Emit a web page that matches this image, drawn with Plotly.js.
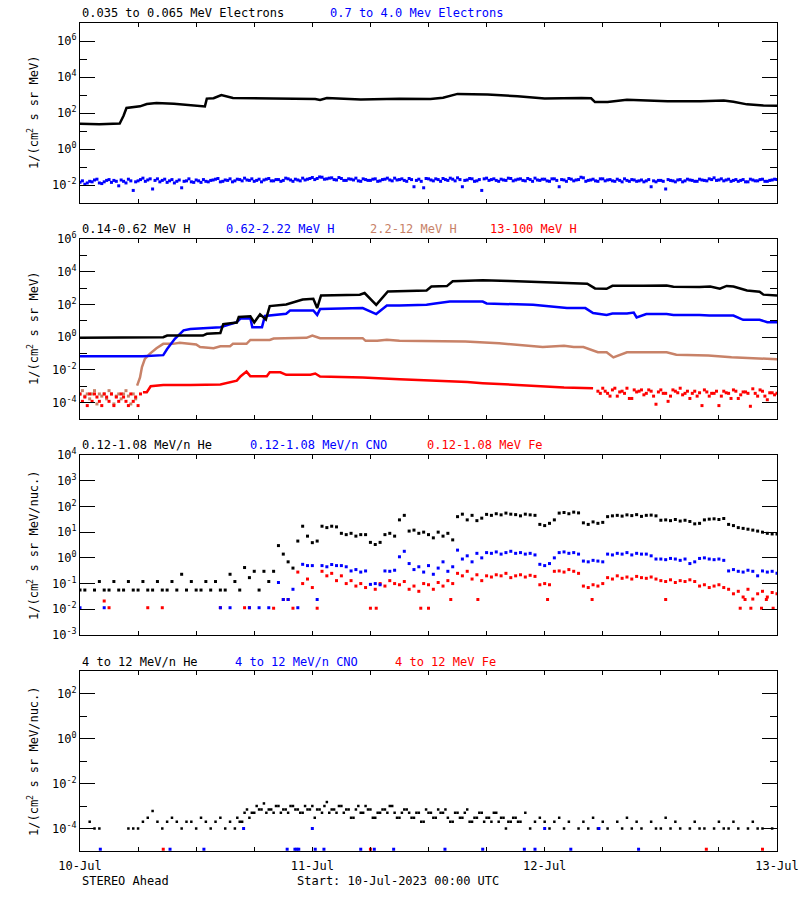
<!DOCTYPE html>
<html><head><meta charset="utf-8">
<script src="https://cdn.plot.ly/plotly-3.0.1.min.js"></script>
<style>body{margin:0;background:#fff}#chart{width:800px;height:900px}</style>
</head><body><div id="chart"></div>
<script>
// ---------- time axis ----------
const xDayHours = [0,24,48,72];
const xDayText = ['10-Jul','11-Jul','12-Jul','13-Jul'];
const xMinorHours = [6,12,18,30,36,42,54,60,66];

// ---------- panel 1 : electrons ----------
const eBlackHours = [0,2,4.1,4.5,4.8,6.2,6.9,7.9,9.7,11,12.4,12.9,13.1,13.8,14.6,15.8,20,24.3,24.8,25.5,29,33,36.2,37.5,39,40.7,42.1,45.2,48,51.8,52.8,53.2,54.5,56.5,57.9,60.7,64.1,66.5,67.5,68.9,70.6,72];
const eBlackFlux = [25,24,26,71,190,235,316,363,331,275,234,229,631,661,1000,676,631,603,525,676,562,617,603,708,1150,1150,1050,850,646,676,660,407,407,550,501,447,447,501,427,302,257,251];
// 0.7-4.0 MeV electrons, every 30 min from 00:00
const eBlueFlux = [
0.014,0.011,0.016,0.019,0.013,0.015,0.020,0.018,0.009,0.016,0.021,0.005,
0.017,0.024,0.019,0.006,0.022,0.018,0.014,0.020,0.016,0.007,0.017,0.015,
0.019,0.014,0.016,0.018,0.021,0.015,0.019,0.022,0.017,0.020,0.024,0.018,
0.016,0.021,0.019,0.023,0.017,0.020,0.018,0.022,0.016,0.019,0.024,0.021,
0.026,0.023,0.027,0.022,0.025,0.019,0.023,0.018,0.021,0.024,0.016,0.020,
0.018,0.022,0.017,0.021,0.019,0.024,0.020,0.018,0.023,0.008,0.021,0.007,
0.022,0.017,0.020,0.023,0.018,0.021,0.025,0.008,0.019,0.022,0.017,0.005,
0.024,0.020,0.018,0.021,0.018,0.023,0.019,0.022,0.017,0.020,0.024,0.018,
0.021,0.016,0.022,0.008,0.019,0.023,0.017,0.020,0.025,0.018,0.021,0.016,
0.022,0.019,0.017,0.021,0.015,0.018,0.020,0.016,0.019,0.017,0.008,0.015,
0.018,0.006,0.018,0.015,0.020,0.017,0.019,0.016,0.021,0.018,0.022,0.025,
0.019,0.017,0.021,0.018,0.016,0.020,0.015,0.019,0.017,0.021,0.016,0.019,
0.020];
// same channel, every 30 min from 00:15
const eBlueFlux2 = [
0.017,0.013,0.015,0.021,0.012,0.018,0.014,0.016,0.019,0.013,0.017,0.015,
0.020,0.016,0.022,0.018,0.015,0.021,0.017,0.013,0.019,0.016,0.022,0.014,
0.017,0.020,0.015,0.019,0.023,0.016,0.018,0.015,0.021,0.017,0.019,0.022,
0.018,0.015,0.021,0.017,0.020,0.016,0.024,0.019,0.021,0.017,0.019,0.023,
0.020,0.028,0.021,0.024,0.020,0.026,0.018,0.022,0.019,0.017,0.022,0.018,
0.021,0.016,0.020,0.024,0.017,0.019,0.022,0.016,0.020,0.018,0.016,0.023,
0.019,0.022,0.016,0.020,0.024,0.017,0.020,0.018,0.023,0.016,0.020,0.022,
0.018,0.022,0.016,0.019,0.024,0.017,0.021,0.018,0.023,0.016,0.019,0.021,
0.017,0.022,0.018,0.020,0.016,0.021,0.019,0.027,0.016,0.019,0.017,0.022,
0.017,0.020,0.016,0.018,0.022,0.016,0.019,0.017,0.015,0.020,0.017,0.018,
0.016,0.020,0.017,0.019,0.015,0.021,0.018,0.016,0.019,0.017,0.020,0.018,
0.022,0.019,0.016,0.020,0.018,0.015,0.021,0.017,0.020,0.016,0.018,0.021];

// ---------- panel 2 : protons ----------
const hBlackHours = [0,8.6,9.0,12.7,13.1,14.5,14.8,16.2,16.4,17.6,18.0,18.6,19.2,19.6,21.3,22.4,23.0,24.1,24.5,24.9,28.9,29.4,30.6,31.8,33,35.8,36.3,37.9,38.5,41.6,44.4,50.3,52.4,53.2,54.4,55,57.1,58.2,60.6,61.3,64,65.1,66.1,66.8,67.5,68.9,70.2,70.6,72];
const hBlackFlux = [0.91,1.0,1.26,1.26,1.6,1.8,6.3,7.9,17,19,8,25,12,79,100,151,200,224,60,355,398,501,95,617,631,708,1260,1320,2630,3020,2690,2140,1860,955,912,1380,1480,1410,1450,1200,1150,1260,912,1350,1260,708,603,398,355];
const hBlueHours = [0,6.5,8.6,9.0,9.8,10.7,11.4,14.5,16.2,16.6,17.6,17.8,18.8,19.1,21.3,21.7,24.1,24.5,24.8,28.9,29.2,30.6,31.7,33,35.8,36.5,38.2,41.6,42,46.8,50.3,52.2,53,54.4,55,56.5,57.2,57.5,58.5,60.6,61.3,64,65,67.5,68.5,70.2,71,72];
const hBlueFlux = [0.069,0.069,0.08,0.19,0.8,2.6,3.2,4.1,8.3,14,14.5,4.1,4.1,20,27,42,43,23,52,55,60,26,87,87,95,110,151,151,115,95,60,60,30,23,28,28,32,16,26,26,23,23,21,21,11.5,11.5,8.3,8.3];
const hBrownHours = [5.9,6.2,6.4,6.7,7.2,7.9,8.6,9.6,10.3,12,12.4,13.8,14.5,15.5,15.8,17.2,17.6,19.6,20,22,23.4,24,24.8,29.2,29.5,30.7,31.7,33,39.8,43.3,46.8,47.8,50,51,52,53.5,54.4,55.1,56.5,60.6,61.6,64.9,67.3,72];
const hBrownFlux = [0.0011,0.0035,0.015,0.047,0.095,0.21,0.39,0.39,0.45,0.36,0.25,0.21,0.28,0.28,0.39,0.39,0.68,0.68,0.83,0.83,0.91,1.26,0.87,0.87,0.6,0.6,0.69,0.6,0.55,0.43,0.3,0.25,0.3,0.25,0.25,0.12,0.12,0.058,0.12,0.12,0.085,0.075,0.06,0.045];
// pre-event 2.2-12 MeV scatter, every 15 min from 00:00
const hBrownEarly = [3.4e-4,5.4e-4,2.5e-4,3.4e-4,1.7e-4,3.4e-4,5.4e-4,8.3e-5,3.4e-4,2.5e-4,3.4e-4,1.7e-4,5.4e-4,3.4e-4,8.3e-5,2.5e-4,3.4e-4,1.7e-4,3.4e-4,5.4e-4,2.5e-4,8.3e-5,3.4e-4,1.7e-4];
// 13-100 MeV: early scatter (15 min from 00:00), main trend, late scatter (30 min from 53:30 and from 53:45)
const hRedEarly = [3.4e-4,1.2e-4,2.2e-4,6.6e-5,3.4e-4,1.2e-4,3.4e-4,2.2e-4,1.2e-4,6.6e-5,3.4e-4,2.2e-4,1.2e-4,3.4e-4,6.6e-5,2.2e-4,1.2e-4,3.4e-4,2.2e-4,1.2e-4,6.6e-5,3.4e-4,1.2e-4,2.2e-4,6.6e-5,3.4e-4];
const hRedMidHours = [6.5,6.9,7.3,8.6,11.4,14.5,16.2,16.6,17.2,17.6,19.3,19.6,20.7,21.3,23.8,24.3,24.8,29.2,33,36.5,40,41.6,46,50,53];
const hRedMidFlux = [4.3e-4,4.3e-4,1.0e-3,1.2e-3,1.2e-3,1.3e-3,2.2e-3,4.1e-3,7.9e-3,4.1e-3,4.1e-3,7.2e-3,7.2e-3,5.0e-3,5.0e-3,6.0e-3,3.9e-3,3.4e-3,2.7e-3,2.3e-3,1.8e-3,1.55e-3,1.1e-3,8.5e-4,7.6e-4];
const hRedLate = [5.0e-4,7.6e-4,3.7e-4,6.0e-4,2.5e-4,5.0e-4,7.6e-4,1.8e-4,4.5e-4,6.0e-4,3.7e-4,5.0e-4,8.0e-5,6.0e-4,3.7e-4,2.5e-4,5.0e-4,7.6e-4,3.7e-4,1.8e-4,5.0e-4,4.0e-4,6.0e-4,2.5e-4,3.7e-4,6.6e-5,5.0e-4,3.7e-4,6.0e-4,1.8e-4,4.5e-4,3.7e-4,7.0e-4,2.5e-4,5.0e-4,1.5e-4,4.0e-4,3.7e-4];
const hRedLate2 = [3.7e-4,5.0e-4,2.5e-4,7.6e-4,4.5e-4,3.7e-4,1.8e-4,6.0e-4,5.0e-4,3.0e-4,6.0e-4,2.5e-4,4.5e-4,3.7e-4,1.2e-4,6.0e-4,4.0e-4,3.0e-4,5.0e-4,3.7e-4,2.5e-4,6.6e-5,4.5e-4,3.7e-4,5.0e-4,2.5e-4,4.0e-4,1.8e-4,5.0e-4,3.0e-4,4.5e-4,6.0e-5,3.7e-4,6.0e-4,2.5e-4,4.0e-4,3.0e-4];

// ---------- panel 3 : 0.12-1.08 MeV/n, every 30 min from 00:00 ----------
const lowHe = [
0.056,0.056,null,0.056,0.12,0.056,0.056,0.12,0.056,0.056,0.12,0.056,
0.056,0.12,0.056,0.056,0.12,0.056,0.056,0.12,0.056,0.23,0.056,0.12,
0.056,0.056,0.12,0.056,0.12,0.056,0.056,0.23,0.12,0.056,0.42,0.17,
0.3,0.056,0.3,0.12,0.3,3.0,1.4,0.7,0.4,4.5,17,7,
3.9,4.5,17,15,17,16,9,8,9,7,8,8,
4,3.3,4,8,9,7,30,45,11,12,9,10,
8,6,10,7,9,5,40,50,30,45,28,35,
49,45,52,47,55,50,48,43,50,47,45,20,
18,22,30,55,58,52,60,56,23,20,25,22,
24,40,43,45,42,47,44,48,41,45,46,43,
29,30,28,31,27,29,26,21,22,30,32,33,
31,34,20,18,15,14,13,12,11,10,9,8.5,
8.5];
const lowCNO = [
0.0115,null,null,null,null,0.0115,null,null,null,null,null,null,
null,null,null,null,null,null,null,null,null,null,null,null,
null,null,null,null,null,0.0115,null,0.0115,null,null,null,0.0115,
null,0.0115,null,0.0115,null,0.11,0.024,0.024,0.06,0.0115,0.56,0.5,
0.5,0.024,0.5,0.45,0.55,0.5,0.5,0.45,0.31,0.35,0.28,0.31,
0.093,0.1,0.09,0.31,0.3,0.33,1.1,1.8,0.6,0.35,0.45,0.28,
0.5,0.23,0.4,0.7,0.3,0.45,2,0.9,1.2,0.7,1.5,1.0,
1.6,1.5,1.7,1.4,1.6,1.8,1.5,1.6,1.4,1.5,1.3,0.56,
0.5,0.6,1.0,1.6,1.7,1.5,1.6,1.4,0.75,0.7,0.8,0.75,
0.7,1.4,1.3,1.5,1.4,1.6,1.3,1.5,1.4,1.4,1.2,0.9,
0.9,0.85,0.95,0.9,0.8,0.9,0.6,0.7,0.95,1.0,0.9,0.85,
0.9,0.8,0.31,0.35,0.3,0.28,0.33,0.3,0.2,0.31,0.28,0.3,
0.25];
const lowFe = [
null,null,null,null,null,0.021,0.0115,null,null,null,null,null,
null,null,0.0115,null,null,0.0115,null,null,null,null,null,null,
null,null,null,null,null,0.0115,null,null,null,null,0.0115,0.0115,
null,null,null,null,0.011,null,0.024,0.024,0.011,0.28,0.1,0.15,
0.07,0.011,0.3,0.2,0.25,0.13,0.2,0.1,0.13,0.08,0.1,0.07,
0.011,0.06,0.1,0.08,0.13,0.1,0.09,0.12,0.06,0.08,0.05,0.1,
0.09,0.06,0.11,0.08,0.13,0.1,0.25,0.2,0.3,0.15,0.22,0.13,
0.2,0.18,0.22,0.2,0.25,0.17,0.2,0.22,0.18,0.21,0.19,0.09,
0.1,0.09,0.3,0.31,0.28,0.35,0.3,0.25,0.08,0.07,0.09,0.08,
0.1,0.17,0.15,0.2,0.16,0.18,0.15,0.19,0.17,0.16,0.18,0.15,
0.13,0.12,0.14,0.11,0.13,0.12,0.14,0.12,0.08,0.09,0.07,0.08,
0.09,0.07,0.06,0.04,0.05,0.03,0.06,0.025,0.04,0.05,0.03,0.045,
0.04];
const lowFeExtraHours = [30.6,35.2,36.0,38.3,41.1,48.3,52.9,60.5,68.2,68.7,69.3,70.4,70.9,71.6];
const lowFeExtraFlux = [0.011,0.011,0.011,0.024,0.024,0.024,0.024,0.024,0.011,0.024,0.011,0.011,0.024,0.011];

// ---------- panel 4 : 4-12 MeV/n ----------
// He every 30 min from 00:00
const highHe = [
null,null,2e-4,1e-4,1e-4,null,null,null,null,null,1e-4,1e-4,
1e-4,2e-4,3e-4,6e-4,2e-4,1e-4,2e-4,3e-4,2e-4,1e-4,2e-4,2e-4,
1e-4,3e-4,2e-4,1e-4,2e-4,3e-4,1e-4,2e-4,1e-4,2e-4,5e-4,3e-4,
5e-4,7e-4,1.3e-3,7e-4,5e-4,1e-3,7e-4,5e-4,1e-3,7e-4,5e-4,7e-4,
1e-3,7e-4,5e-4,1.5e-3,7e-4,5e-4,1e-3,7e-4,3e-4,7e-4,5e-4,1e-3,
7e-4,3e-4,5e-4,7e-4,1e-3,5e-4,3e-4,7e-4,5e-4,3e-4,5e-4,2e-4,
5e-4,3e-4,7e-4,5e-4,3e-4,2e-4,5e-4,3e-4,7e-4,2e-4,3e-4,5e-4,
3e-4,2e-4,5e-4,3e-4,1e-4,2e-4,3e-4,2e-4,5e-4,1e-4,2e-4,3e-4,
2e-4,1e-4,2e-4,3e-4,1e-4,2e-4,null,1e-4,2e-4,1e-4,3e-4,1e-4,
2e-4,1e-4,null,2e-4,1e-4,3e-4,1e-4,2e-4,1e-4,null,2e-4,1e-4,
1e-4,3e-4,1e-4,2e-4,1e-4,null,1e-4,2e-4,1e-4,1e-4,null,1e-4,
2e-4,1e-4,1e-4,2e-4,1e-4,null,1e-4,2e-4,1e-4,1e-4,null,1e-4,
null];
// extra He samples, every 30 min from 16:15
const highHeExtra = [
3e-4,2e-4,7e-4,5e-4,1e-3,7e-4,5e-4,7e-4,1e-3,5e-4,
7e-4,1e-3,7e-4,5e-4,1e-3,7e-4,3e-4,7e-4,1e-3,5e-4,
7e-4,1e-3,5e-4,7e-4,3e-4,1e-3,5e-4,7e-4,3e-4,5e-4,
7e-4,5e-4,1e-3,3e-4,5e-4,7e-4,3e-4,5e-4,2e-4,7e-4,
5e-4,3e-4,5e-4,7e-4,2e-4,5e-4,3e-4,5e-4,2e-4,3e-4,
5e-4,2e-4,3e-4,5e-4,2e-4,3e-4,2e-4,3e-4,2e-4];
const highCNOHours = [2.1,9.3,12.8,16.9,21.4,22.2,22.4,22.6,24.0,24.3,25.2,29.0,30.4,32.4,37.7,41.6,45.9,47.0,48.0,50.7,53.6,57.7];
const highCNOFlux = [1.2e-5,1.2e-5,1.2e-5,1e-4,1.2e-5,1.2e-5,1.2e-5,1.2e-5,1e-4,1.2e-5,1.2e-5,1.2e-5,1.2e-5,1.2e-5,1.2e-5,1.2e-5,1.2e-5,1.2e-5,1e-4,1.2e-5,1e-4,1.2e-5];
const highFeHours = [8.6,30.0,64.7,70.5];
const highFeFlux = [1.2e-5,1.2e-5,1.2e-5,1.2e-5];

// ---------- y tick labels ----------
const y1Ticks = [1e-2,1,1e2,1e4,1e6], y1Text = ['10<sup>-2</sup>','10<sup>0</sup>','10<sup>2</sup>','10<sup>4</sup>','10<sup>6</sup>'], y1Minor = [1e-1,1e1,1e3,1e5];
const y2Ticks = [1e-4,1e-2,1,1e2,1e4,1e6], y2Text = ['10<sup>-4</sup>','10<sup>-2</sup>','10<sup>0</sup>','10<sup>2</sup>','10<sup>4</sup>','10<sup>6</sup>'], y2Minor = [1e-3,1e-1,1e1,1e3,1e5];
const y3Ticks = [1e-3,1e-2,1e-1,1,1e1,1e2,1e3,1e4], y3Text = ['10<sup>-3</sup>','10<sup>-2</sup>','10<sup>-1</sup>','10<sup>0</sup>','10<sup>1</sup>','10<sup>2</sup>','10<sup>3</sup>','10<sup>4</sup>'];
const y4Ticks = [1e-4,1e-2,1,1e2], y4Text = ['10<sup>-4</sup>','10<sup>-2</sup>','10<sup>0</sup>','10<sup>2</sup>'], y4Minor = [1e-3,1e-1,1e1];

// ---------- helpers ----------
const T0 = Date.UTC(2023,6,10,0,0,0);
function toTime(h){ return new Date(T0 + Math.round(h*3600000)).toISOString().slice(0,19).replace('T',' '); }
function grid(startH, stepH, n){ const a=[]; for(let i=0;i<n;i++) a.push(startH+i*stepH); return a; }
const BLACK='#000000', BLUE='#0000ff', BROWN='rgb(200,130,104)', RED='#ff0000';
const FONT='DejaVu Sans Mono';
function axes(p){ return {xaxis:'x'+(p>1?p:''), yaxis:'y'+(p>1?p:'')}; }
function line(hours, vals, color, p, w){ return Object.assign({x:hours.map(toTime), y:vals, type:'scatter', mode:'lines', line:{color, width:w||2.5}, hoverinfo:'skip'}, axes(p)); }
function dots(hours, vals, color, p, size){ return Object.assign({x:hours.map(toTime), y:vals, type:'scatter', mode:'markers', marker:{symbol:'square', size:size||3, color, line:{width:0}}, hoverinfo:'skip'}, axes(p)); }

const traces = [
  line(eBlackHours, eBlackFlux, BLACK, 1),
  dots(grid(0,0.5,eBlueFlux.length), eBlueFlux, BLUE, 1, 3),
  dots(grid(0.25,0.5,eBlueFlux2.length), eBlueFlux2, BLUE, 1, 3),

  dots(grid(0,0.25,hBrownEarly.length), hBrownEarly, BROWN, 2, 3),
  line(hBrownHours, hBrownFlux, BROWN, 2),
  dots(grid(0,0.25,hRedEarly.length), hRedEarly, RED, 2, 3),
  line(hRedMidHours, hRedMidFlux, RED, 2),
  dots(grid(53.5,0.5,hRedLate.length), hRedLate, RED, 2, 3),
  dots(grid(53.75,0.5,hRedLate2.length), hRedLate2, RED, 2, 3),
  line(hBlueHours, hBlueFlux, BLUE, 2),
  line(hBlackHours, hBlackFlux, BLACK, 2),

  dots(grid(0,0.5,lowFe.length), lowFe, RED, 3, 3),
  dots(lowFeExtraHours, lowFeExtraFlux, RED, 3, 3),
  dots(grid(0,0.5,lowCNO.length), lowCNO, BLUE, 3, 3),
  dots(grid(0,0.5,lowHe.length), lowHe, BLACK, 3, 3),

  dots(grid(0,0.5,highHe.length), highHe, BLACK, 4, 2.5),
  dots(grid(16.25,0.5,highHeExtra.length), highHeExtra, BLACK, 4, 2.5),
  dots(highCNOHours, highCNOFlux, BLUE, 4, 3),
  dots(highFeHours, highFeFlux, RED, 4, 3)
];

function xAxis(p, labels){
  return {type:'date', range:[toTime(0), toTime(72)], anchor:'y'+(p>1?p:''), domain:[0,1],
    tickmode:'array', tickvals:xDayHours.map(toTime), ticktext:xDayText,
    ticks:'inside', ticklen:4, tickwidth:1, tickcolor:'#000', showticklabels:labels,
    minor:{tickmode:'array', tickvals:xMinorHours.map(toTime), ticks:'inside', ticklen:4, tickwidth:1, tickcolor:'#000', showgrid:false},
    showline:true, linecolor:'#000', linewidth:1, mirror:'ticks', showgrid:false, zeroline:false,
    tickfont:{family:FONT, size:12, color:'#000'}, ticklabelstandoff:4, fixedrange:true};
}
function yAxis(p, domain, range, vals, text, minor){
  const a = {type:'log', domain, range, anchor:'x'+(p>1?p:''),
    tickmode:'array', tickvals:vals, ticktext:text,
    ticks:'inside', ticklen:15, tickwidth:1, tickcolor:'#000',
    showline:true, linecolor:'#000', linewidth:1, mirror:'ticks', showgrid:false, zeroline:false,
    tickfont:{family:FONT, size:12, color:'#000'}, fixedrange:true};
  if (minor) a.minor = {tickmode:'array', tickvals:minor, ticks:'inside', ticklen:7, tickwidth:1, tickcolor:'#000', showgrid:false};
  return a;
}

const PH = 828; // plot height in px (900 - 23 - 49)
function py(pix){ return (851 - pix)/PH; }
function px(pix){ return (pix - 80)/697; }
function label(text, xpix, ypix, color){ return {text, x:px(xpix), y:py(ypix), xref:'paper', yref:'paper', xanchor:'left', yanchor:'middle', showarrow:false, font:{family:FONT, size:12, color}}; }
function ytitle(text, ypix){ return {text, x:px(33), y:py(ypix), xref:'paper', yref:'paper', xanchor:'center', yanchor:'middle', textangle:-90, showarrow:false, font:{family:FONT, size:12, color:'#000'}}; }

const annotations = [
  label('0.035 to 0.065 MeV Electrons', 80, 13, BLACK),
  label('0.7 to 4.0 Mev Electrons', 328, 13, BLUE),
  label('0.14-0.62 MeV H', 80, 229, BLACK),
  label('0.62-2.22 MeV H', 224, 229, BLUE),
  label('2.2-12 MeV H', 368, 229, BROWN),
  label('13-100 MeV H', 488, 229, RED),
  label('0.12-1.08 MeV/n He', 80, 445.5, BLACK),
  label('0.12-1.08 MeV/n CNO', 248, 445.5, BLUE),
  label('0.12-1.08 MeV Fe', 425, 445.5, RED),
  label('4 to 12 MeV/n He', 80, 661.5, BLACK),
  label('4 to 12 MeV/n CNO', 233, 661.5, BLUE),
  label('4 to 12 MeV Fe', 393, 661.5, RED),
  ytitle('1/(cm<sup>2</sup> s sr MeV)', 113),
  ytitle('1/(cm<sup>2</sup> s sr MeV)', 329),
  ytitle('1/(cm<sup>2</sup> s sr MeV/nuc.)', 545),
  ytitle('1/(cm<sup>2</sup> s sr MeV/nuc.)', 761),
  label('STEREO Ahead', 80, 881, BLACK),
  label('Start: 10-Jul-2023 00:00 UTC', 295, 881, BLACK)
];

const layout = {
  width:800, height:900, margin:{l:80, r:23, t:23, b:49, pad:0},
  paper_bgcolor:'#fff', plot_bgcolor:'#fff', showlegend:false,
  font:{family:FONT, size:12, color:'#000'},
  xaxis:xAxis(1,false), xaxis2:xAxis(2,false), xaxis3:xAxis(3,false), xaxis4:xAxis(4,true),
  yaxis: yAxis(1,[0.78261,1],[-3,7],y1Ticks,y1Text,y1Minor),
  yaxis2:yAxis(2,[0.52174,0.73913],[-5,6],y2Ticks,y2Text,y2Minor),
  yaxis3:yAxis(3,[0.26087,0.47826],[-3,4],y3Ticks,y3Text,null),
  yaxis4:yAxis(4,[0,0.21739],[-5,3],y4Ticks,y4Text,y4Minor),
  annotations
};
Plotly.newPlot('chart', traces, layout, {staticPlot:true, displayModeBar:false});
</script></body></html>
